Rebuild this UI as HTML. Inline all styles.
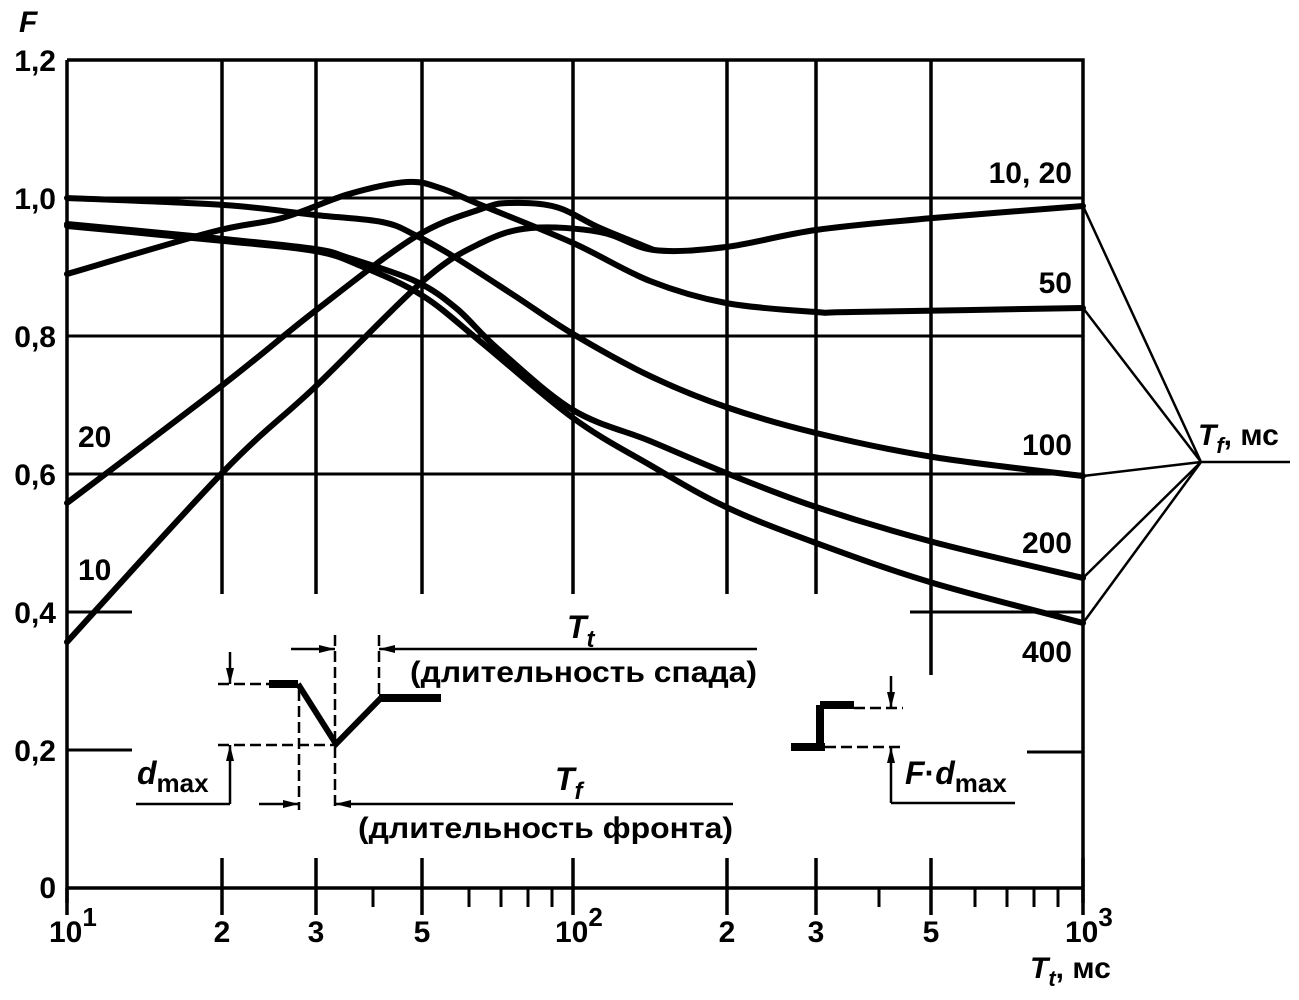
<!DOCTYPE html>
<html><head><meta charset="utf-8"><style>
html,body{margin:0;padding:0;background:#fff}
svg{display:block}
text{font-family:"Liberation Sans",sans-serif;fill:#000;font-weight:bold}
</style></head><body>
<svg id="s" width="1299" height="1000" viewBox="0 0 1299 1000" xmlns="http://www.w3.org/2000/svg">
<defs>
<marker id="ah" viewBox="0 0 16 10" refX="16" refY="5" markerWidth="16" markerHeight="10" orient="auto" markerUnits="userSpaceOnUse">
<path d="M0,1 L16,5 L0,9 Z" fill="#000"/>
</marker>
</defs>
<g stroke="#000" fill="none">
<path d="M67,60 H1083 V903 M67,60 V903 M67,888 H1083" stroke-width="3.5"/>
<path d="M67,198 H1083 M67,336 H1083 M67,474 H1083" stroke-width="3"/>
<path d="M67,612 H132 M910,612 H1083 M67,750 H132 M1027,752 H1083" stroke-width="3"/>
<path d="M222,60 V594 M316,60 V594 M422,60 V594 M573,60 V594 M727,60 V594 M816,60 V594 M931,60 V675" stroke-width="3.5"/>
<path d="M222,858 V915 M316,858 V915 M422,858 V915 M573,858 V915 M727,858 V915 M816,858 V915 M931,858 V915 M1083,858 V915 M67,888 V915" stroke-width="3.5"/>
<path d="M373,888 V907 M469,888 V907 M501,888 V907 M528,888 V907 M552,888 V907 M879,888 V907 M975,888 V907 M1007,888 V907 M1034,888 V907 M1058,888 V907" stroke-width="3"/>
<g id="curves" stroke-width="6" stroke-linejoin="round" stroke-linecap="round"></g>
<path d="M1083,206 L1201,462 M1083,308 L1201,462 M1083,476 L1201,462 M1083,578 L1201,462 M1083,623 L1201,462 M1201,462 H1290" stroke-width="2.5"/>
<path d="M269,684 H298" stroke-width="8"/>
<path d="M298,684 L336,744 L381,698" stroke-width="6" stroke-linejoin="miter"/>
<path d="M379,698 H441" stroke-width="8"/>
<path d="M218,684 H269 M218,745 H335" stroke-width="2.5" stroke-dasharray="11,5"/>
<path d="M299,690 V810 M335,635 V810 M379,635 V698" stroke-width="2.5" stroke-dasharray="11,5"/>
<path d="M230,652 V684" stroke-width="2.5" marker-end="url(#ah)"/>
<path d="M230,804 V745" stroke-width="2.5" marker-end="url(#ah)"/>
<path d="M230,804 H136" stroke-width="2.5"/>
<path d="M291,649 H335" stroke-width="2.5" marker-end="url(#ah)"/>
<path d="M757,649 H379" stroke-width="2.5" marker-end="url(#ah)"/>
<path d="M259,804 H299" stroke-width="2.5" marker-end="url(#ah)"/>
<path d="M733,804 H335" stroke-width="2.5" marker-end="url(#ah)"/>
<path d="M791,747 H825 M820,747 V705 M820,705 H854" stroke-width="8"/>
<path d="M854,708 H903 M825,747 H903" stroke-width="2.5" stroke-dasharray="11,5"/>
<path d="M891,676 V708" stroke-width="2.5" marker-end="url(#ah)"/>
<path d="M891,803 V747" stroke-width="2.5" marker-end="url(#ah)"/>
<path d="M891,803 H1015" stroke-width="2.5"/>
</g>
<g font-size="30" text-anchor="end">
<text x="56" y="71">1,2</text>
<text x="56" y="209">1,0</text>
<text x="56" y="347">0,8</text>
<text x="56" y="485">0,6</text>
<text x="56" y="623">0,4</text>
<text x="56" y="761">0,2</text>
<text x="56" y="898">0</text>
</g>
<text x="19" y="32" font-size="30" font-style="italic">F</text>
<g font-size="30" text-anchor="middle">
<text x="222" y="942">2</text>
<text x="316" y="942">3</text>
<text x="422" y="942">5</text>
<text x="727" y="942">2</text>
<text x="816" y="942">3</text>
<text x="931" y="942">5</text>
</g>
<g font-size="30">
<text x="49" y="942">10<tspan font-size="26" dy="-16">1</tspan></text>
<text x="555" y="942">10<tspan font-size="26" dy="-16">2</tspan></text>
<text x="1065" y="942">10<tspan font-size="26" dy="-16">3</tspan></text>
</g>
<text x="1030" y="978" font-size="30"><tspan font-style="italic">T</tspan><tspan font-style="italic" font-size="22" dy="8">t</tspan><tspan dy="-8">, мс</tspan></text>
<g font-size="30">
<text x="78" y="447">20</text>
<text x="78" y="580">10</text>
</g>
<g font-size="30" text-anchor="end">
<text x="1072" y="183">10, 20</text>
<text x="1072" y="293">50</text>
<text x="1072" y="455">100</text>
<text x="1072" y="553">200</text>
<text x="1072" y="662">400</text>
</g>
<text x="1198" y="445" font-size="30"><tspan font-style="italic">T</tspan><tspan font-style="italic" font-size="22" dy="8">f</tspan><tspan dy="-8">, мс</tspan></text>
<text x="567" y="638" font-size="32" font-style="italic">T<tspan font-size="24" dy="9">t</tspan></text>
<text x="410" y="682" font-size="30" textLength="347" lengthAdjust="spacingAndGlyphs">(длительность спада)</text>
<text x="555" y="790" font-size="32" font-style="italic">T<tspan font-size="24" dy="9">f</tspan></text>
<text x="358" y="838" font-size="30" textLength="375" lengthAdjust="spacingAndGlyphs">(длительность фронта)</text>
<text x="137" y="784" font-size="32" font-style="italic">d<tspan font-style="normal" font-size="26" dy="8">max</tspan></text>
<text x="905" y="784" font-size="32"><tspan font-style="italic">F</tspan>·<tspan font-style="italic">d</tspan><tspan font-size="26" dy="8">max</tspan></text>
</svg>
<script>
var C=[
[67,642,224,471,315,387,423,281,481,243,531,228,600,232,654,250,726,247,816,230,933,218,1083,206],
[67,503,224,384,315,311,415,237,481,209,510,203,556,207,600,228,654,250],
[67,274,212,232,282,218,349,194,407,182,440,188,481,205,573,243,650,281,726,303,816,312,852,312,1083,308],
[67,198,224,205,315,215,382,222,415,235,456,258,515,296,573,334,650,376,726,407,816,433,933,457,1083,476],
[67,224,224,239,315,249,349,258,415,281,456,308,498,349,573,410,650,441,726,473,816,507,933,542,1083,578],
[67,226,224,241,315,251,361,266,423,296,481,342,573,418,650,465,726,507,816,543,933,583,1083,623]];
var g=document.getElementById('curves');
C.forEach(function(a){
 var p=[];for(var i=0;i<a.length;i+=2)p.push([a[i],a[i+1]]);
 var d='M'+p[0][0]+','+p[0][1];
 for(var i=0;i<p.length-1;i++){
  var p0=p[i-1]||p[i],p1=p[i],p2=p[i+1],p3=p[i+2]||p2;
  var c1=[p1[0]+(p2[0]-p0[0])/6,p1[1]+(p2[1]-p0[1])/6];
  var c2=[p2[0]-(p3[0]-p1[0])/6,p2[1]-(p3[1]-p1[1])/6];
  d+=' C'+c1[0]+','+c1[1]+' '+c2[0]+','+c2[1]+' '+p2[0]+','+p2[1];
 }
 var e=document.createElementNS('http://www.w3.org/2000/svg','path');
 e.setAttribute('d',d);g.appendChild(e);
});
</script>
</body></html>
